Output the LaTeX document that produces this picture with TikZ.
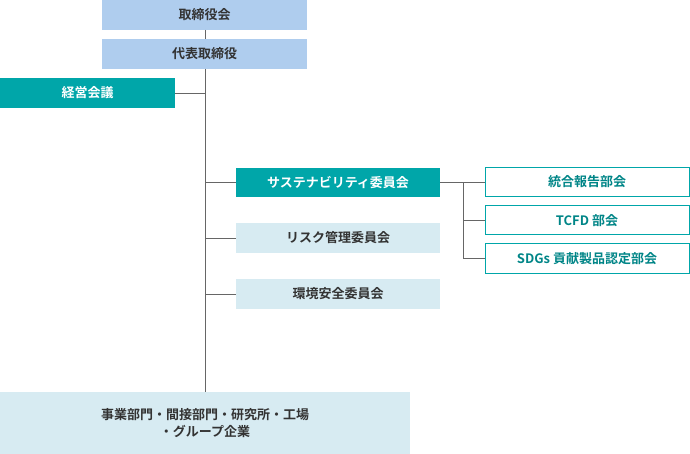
\documentclass[tikz,border=0pt]{standalone}
\usepackage{fontspec}
\setmainfont{Noto Sans CJK JP}[BoldFont={* Bold}]
\definecolor{lb}{HTML}{AFCDEE}
\definecolor{tl}{HTML}{00A6A9}
\definecolor{pl}{HTML}{D7EBF2}
\definecolor{tx}{HTML}{333333}
\begin{document}
\begin{tikzpicture}[x=1pt,y=-1pt,
 bx/.style={inner sep=0,text=tx,font=\fontsize{13}{17}\selectfont\bfseries,align=center},
 ln/.style={draw=gray!80!black,line width=0.8pt}]
\useasboundingbox (0,0) rectangle (690,454);
\fill[lb] (102,0) rectangle (307,30);
\node[bx] (a) at (204.5,15) {取締役会};
\fill[lb] (102,39) rectangle (307,69);
\node[bx] (b) at (204.5,54) {代表取締役};
\fill[tl] (0,78) rectangle (175,108);
\node[bx,text=white] (c) at (87.5,93) {経営会議};
\fill[tl] (236,168) rectangle (440,197);
\node[bx,text=white] (s) at (338,182.5) {サステナビリティ委員会};
\fill[pl] (236,223) rectangle (440,253);
\node[bx] (r) at (338,238) {リスク管理委員会};
\fill[pl] (236,279) rectangle (440,309);
\node[bx] (e) at (338,294) {環境安全委員会};
\fill[pl] (0,392) rectangle (410,454);
\node[bx] (d) at (205,423) {事業部門・間接部門・研究所・工場\\・グループ企業};
\draw[tl,line width=1pt] (485.5,167.5) rectangle (689,196.5);
\node[bx,text=tl!80!black] (g1) at (587,182) {統合報告部会};
\draw[tl,line width=1pt] (485.5,206) rectangle (689,235);
\node[bx,text=tl!80!black] (g2) at (587,220.5) {TCFD 部会};
\draw[tl,line width=1pt] (485.5,244) rectangle (689,273);
\node[bx,text=tl!80!black] (g3) at (587,258.5) {SDGs 貢献製品認定部会};
\coordinate (t1) at (205,30);
\coordinate (t2) at (205,39);
\coordinate (v1) at (205,69);
\coordinate (v2) at (205,392);
\draw[ln] (t1)--(t2);
\draw[ln] (v1)--(v2);
\draw[ln] (175,93)--(205,93);
\draw[ln] (205,182.5)--(236,182.5);
\draw[ln] (205,238)--(236,238);
\draw[ln] (205,294)--(236,294);
\draw[ln] (440,182.5)--(485,182.5);
\draw[ln] (463,182.5)--(463,258.5)--(485,258.5);
\draw[ln] (463,220.5)--(485,220.5);
\end{tikzpicture}
\end{document}
